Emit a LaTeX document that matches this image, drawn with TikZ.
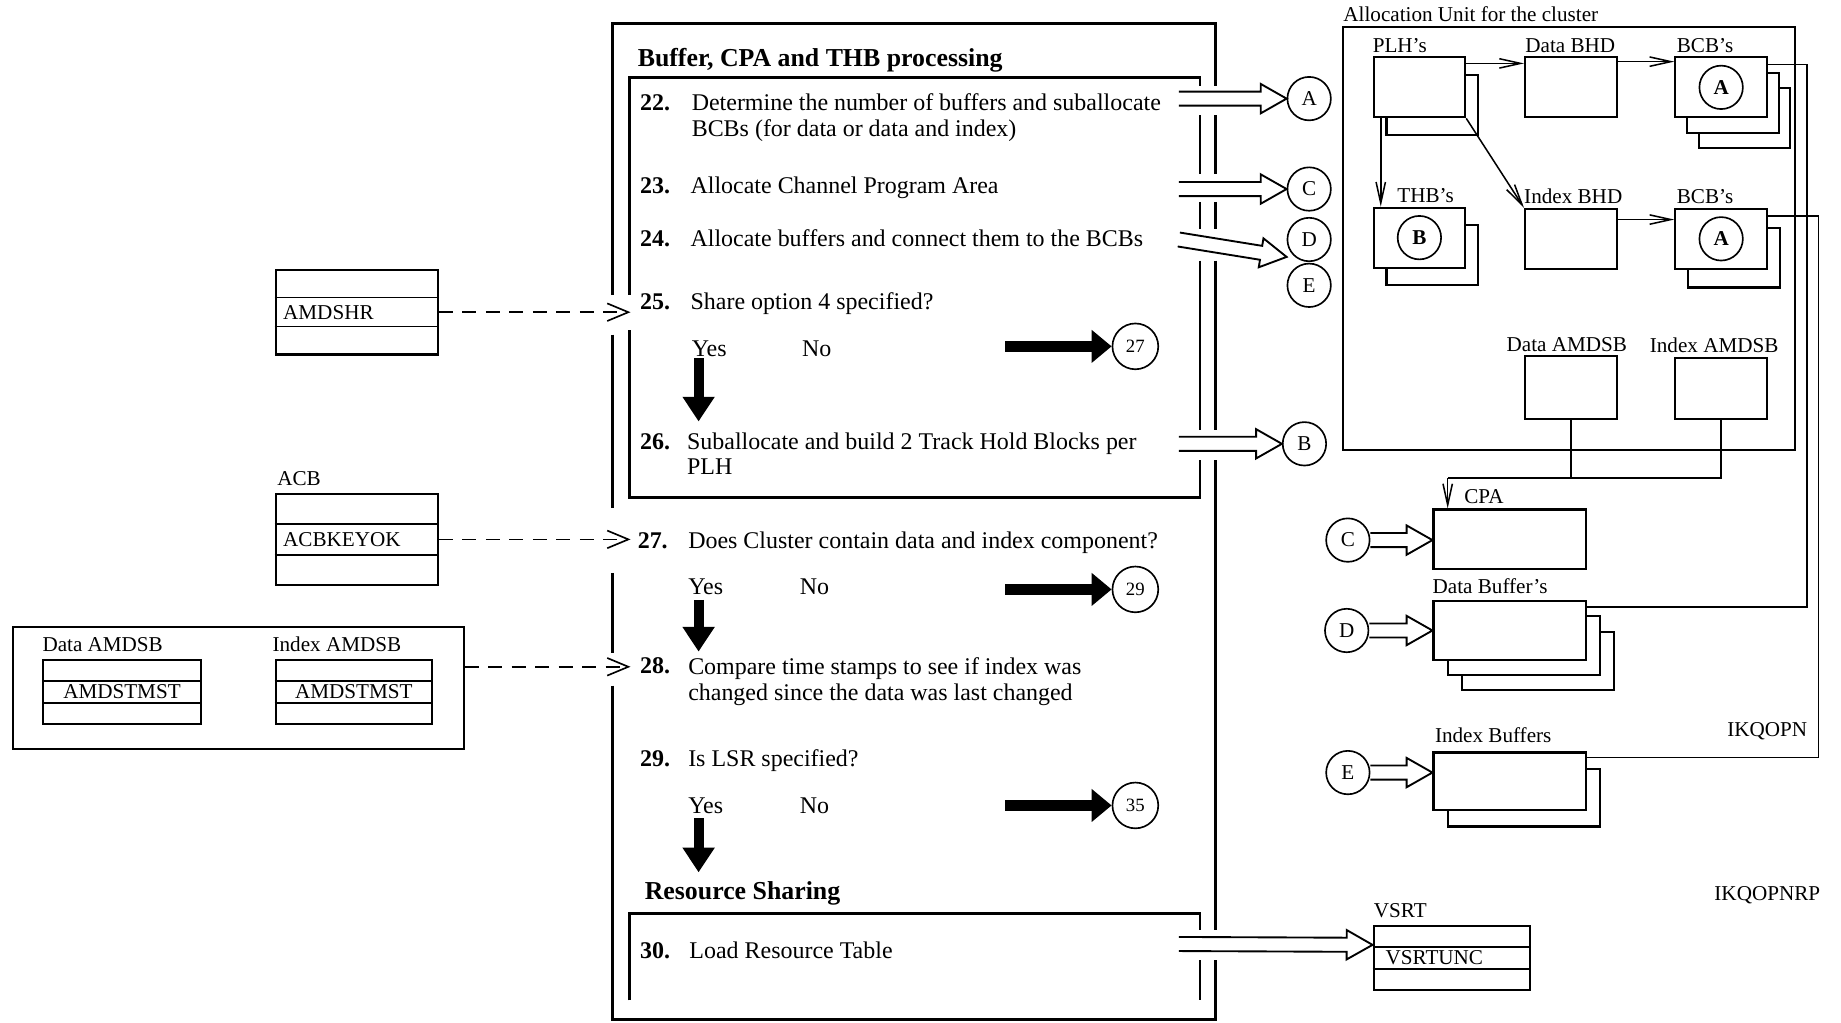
\documentclass[tikz,border=0pt]{standalone}
\usepackage{fontspec}
\setmainfont{Liberation Serif}
\usetikzlibrary{arrows.meta,positioning,calc}

\newcommand\stepfont{\fontsize{20.4}{21.8}\selectfont}
\newcommand\boxfont{\fontsize{18}{20}\selectfont}
\newcommand\headfont{\fontsize{22}{24}\selectfont\bfseries}
\newcommand\numfont{\fontsize{16}{18}\selectfont}

% open double-line arrow from #1 to #2
\newcommand\hollowar[2]{%
  \coordinate (hb) at ($(#2)!22pt!(#1)$);
  \draw[hollowln] ($(#1)!6pt!90:(#2)$) -- ($(hb)!6pt!-90:(#1)$) -- ($(hb)!12.5pt!-90:(#1)$) -- (#2)
    -- ($(hb)!12.5pt!90:(#1)$) -- ($(hb)!6pt!90:(#1)$) -- ($(#1)!6pt!-90:(#2)$);
}
% three-row control block dividers
\newcommand\rowlines[1]{%
  \foreach \f in {0.333,0.667}
    \draw[wire] ($(#1.north west)!\f!(#1.south west)$) -- ($(#1.north east)!\f!(#1.south east)$);
}

\begin{document}
\begin{tikzpicture}[x=1pt,y=-1pt,
  frm/.style={line width=2.4pt},
  wire/.style={line width=1.3pt},
  abox/.style={draw,fill=white,line width=1.8pt,inner sep=0pt,anchor=north west},
  ublk/.style={abox,minimum width=78pt,minimum height=51pt},
  bufblk/.style={abox,minimum width=130pt,minimum height=50pt},
  lbl/.style={font=\boxfont,inner sep=0pt,anchor=base west},
  stxt/.style={font=\stepfont,inner sep=0pt,anchor=base west,align=left},
  snum/.style={stxt,font=\stepfont\bfseries},
  head/.style={font=\headfont,inner sep=0pt,anchor=base west},
  conn/.style={circle,draw,fill=white,line width=1.4pt,minimum size=37pt,inner sep=0pt,font=\boxfont},
  numc/.style={conn,minimum size=39pt,font=\numfont},
  heavy/.style={line width=10pt,-{Triangle[length=17pt,width=27pt]}},
  heavydn/.style={line width=8.5pt,-{Triangle[length=21pt,width=26pt]}},
  dashar/.style={line width=1.4pt,dash pattern=on 12pt off 8pt,-{Straight Barb[length=18pt,width=15pt]}},
  thinar/.style={line width=1.3pt,-{Straight Barb[length=18pt,width=8pt]}},
  hollowln/.style={line width=1.6pt,line join=miter}
]
\fill[white] (0,0) rectangle (1568,871);

% processing frame
\draw[frm] (522,251) -- (522,20) -- (1035,20) -- (1035,73);
\draw[frm] (522,285) -- (522,433);
\draw[frm] (522,488) -- (522,556);
\draw[frm] (522,584) -- (522,868) -- (1035,868) -- (1035,818);
\draw[frm] (1035,98) -- (1035,148) (1035,172) -- (1035,195) (1035,222) -- (1035,366) (1035,392) -- (1035,792);
\draw[frm] (536,251) -- (536,66) -- (1022,66) -- (1022,73);
\draw[frm] (1022,98) -- (1022,148) (1022,172) -- (1022,195) (1022,222) -- (1022,366)
  (1022,392) -- (1022,424) -- (536,424) -- (536,281);
\draw[frm] (536,852) -- (536,778) -- (1022,778) -- (1022,792) (1022,818) -- (1022,852);

% steps
\node[head] (ttl) at (543,57) {Buffer, CPA and THB processing};
\node[snum] (n22) at (545,94.5) {22.};
\node[stxt] (t22) at (589,116) {Determine the number of buffers and suballocate\\BCBs (for data or data and index)};
\node[snum] (n23) at (545,164.5) {23.};
\node[stxt] (t23) at (588,164.5) {Allocate Channel Program Area};
\node[snum] (n24) at (545,210) {24.};
\node[stxt] (t24) at (588,210) {Allocate buffers and connect them to the BCBs};
\node[snum] (n25) at (545,263.5) {25.};
\node[stxt] (t25) at (588,263.5) {Share option 4 specified?};
\node[stxt] (y25) at (589,303.5) {Yes};
\node[stxt] (no25) at (683,303.5) {No};
\node[snum] (n26) at (545,382.5) {26.};
\node[stxt] (t26) at (585,404.5) {Suballocate and build 2 Track Hold Blocks per\\PLH};
\node[snum] (n27) at (543,467.5) {27.};
\node[stxt] (t27) at (586,467.5) {Does Cluster contain data and index component?};
\node[stxt] (y27) at (586,506.5) {Yes};
\node[stxt] (no27) at (681,506.5) {No};
\node[snum] (n28) at (545,573.5) {28.};
\node[stxt] (t28) at (586,596.5) {Compare time stamps to see if index was\\changed since the data was last changed};
\node[snum] (n29) at (545,652.5) {29.};
\node[stxt] (t29) at (586,652.5) {Is LSR specified?};
\node[stxt] (y29) at (586,692.5) {Yes};
\node[stxt] (no29) at (681,692.5) {No};
\node[head] (rs) at (549,766) {Resource Sharing};
\node[snum] (n30) at (545,816.5) {30.};
\node[stxt] (t30) at (587,816.5) {Load Resource Table};

% branch targets
\node[numc] (c27) at (967,295) {27};
\node[numc] (c29) at (967,502) {29};
\node[numc] (c35) at (967,686) {35};
\coordinate (h25) at (856,295);
\coordinate (h27) at (856,502);
\coordinate (h29) at (856,686);
\draw[heavy] (h25) -- (c27);
\draw[heavy] (h27) -- (c29);
\draw[heavy] (h29) -- (c35);
\coordinate (d25a) at (595,305); \coordinate (d25b) at (595,359);
\coordinate (d27a) at (595,511); \coordinate (d27b) at (595,555);
\coordinate (d29a) at (595,697); \coordinate (d29b) at (595,743);
\draw[heavydn] (d25a) -- (d25b);
\draw[heavydn] (d27a) -- (d27b);
\draw[heavydn] (d29a) -- (d29b);

% connectors out of the frame
\node[conn] (a1) at (1115,84) {A};
\node[conn] (c1) at (1115,161) {C};
\node[conn] (d1) at (1115,204) {D};
\node[conn] (e1) at (1115,243) {E};
\node[conn] (b1) at (1111,378) {B};
\coordinate (s22) at (1004,84);
\coordinate (s23) at (1004,161);
\coordinate (s24) at (1004,204);
\coordinate (s26) at (1004,378);
\coordinate (s30) at (1004,804);
\coordinate (de) at ($(d1.west)!0.38!(e1.west)$);
\hollowar{s22}{a1.west}
\hollowar{s23}{c1.west}
\hollowar{s24}{de}
\hollowar{s26}{b1.west}

% input control blocks
\node[abox,minimum width=138pt,minimum height=72pt] (amdshr) at (234,229) {};
\rowlines{amdshr}
\node[lbl,right=7pt of amdshr.west] (amdshrt) {AMDSHR};
\node[abox,minimum width=138pt,minimum height=77pt] (acb) at (234,420) {};
\rowlines{acb}
\node[lbl,right=7pt of acb.west] (acbt) {ACBKEYOK};
\node[lbl,above right=6pt and 2pt of acb.north west] (acbl) {ACB};
\node[abox,minimum width=384pt,minimum height=104pt] (amdsbg) at (10,533) {};
\node[abox,minimum width=134pt,minimum height=55pt] (damdst) at (36,561) {};
\rowlines{damdst}
\node[lbl,anchor=center] (damdstt) at (damdst) {AMDSTMST};
\node[lbl,above right=6pt and 0pt of damdst.north west] (damdstl) {Data AMDSB};
\node[abox,minimum width=133pt,minimum height=55pt] (iamdst) at (234,561) {};
\rowlines{iamdst}
\node[lbl,anchor=center] (iamdstt) at (iamdst) {AMDSTMST};
\node[lbl,above right=6pt and -2pt of iamdst.north west] (iamdstl) {Index AMDSB};
\draw[dashar,shorten >=8pt] (amdshr.east) -- (amdshr.east -| n25.west);
\draw[dashar,shorten >=6pt] (acb.east) -- (acb.east -| n27.west);
\draw[dashar,shorten >=8pt] ([yshift=18pt]amdsbg.east) -- ([yshift=18pt]amdsbg.east -| n28.west);

% allocation unit for the cluster
\node[abox,line width=2pt,minimum width=385pt,minimum height=360pt] (alloc) at (1143,22) {};
\node[lbl,above right=3pt and 1pt of alloc.north west] (allocl) {Allocation Unit for the cluster};
\node[ublk] (plhb) at (1180,63) {};
\node[ublk] (plh) at (1169,48) {};
\node[lbl,above right=3pt and 0pt of plh.north west] (plhl) {PLH’s};
\node[ublk] (dbhd) at (1298,48) {};
\node[lbl,above right=3pt and 1pt of dbhd.north west] (dbhdl) {Data BHD};
\foreach \k in {2,1}
  \node[ublk] (bcb1b\k) at ($(1426,48)+\k*(10,13)$) {};
\node[ublk] (bcb1) at (1426,48) {};
\node[lbl,above right=3pt and 2pt of bcb1.north west] (bcb1l) {BCB’s};
\node[conn,font=\boxfont\bfseries] (a2) at (bcb1) {A};
\node[ublk] (thbb) at (1180,191) {};
\node[ublk] (thb) at (1169,176) {};
\node[lbl,above right=3pt and 21pt of thb.north west] (thbl) {THB’s};
\node[conn,font=\boxfont\bfseries] (b2) at (thb) {B};
\node[ublk] (ibhd) at (1298,177) {};
\node[lbl,above right=3pt and 0pt of ibhd.north west] (ibhdl) {Index BHD};
\node[ublk] (bcb2b) at (1437,193) {};
\node[ublk] (bcb2) at (1426,177) {};
\node[lbl,above right=3pt and 2pt of bcb2.north west] (bcb2l) {BCB’s};
\node[conn,font=\boxfont\bfseries] (a3) at (bcb2) {A};
\node[ublk,minimum height=54pt] (damdsb) at (1298,302) {};
\node[lbl,above right=2pt and -15pt of damdsb.north west] (damdsbl) {Data AMDSB};
\node[ublk,minimum height=52pt] (iamdsb) at (1426,304) {};
\node[lbl,above right=3pt and -21pt of iamdsb.north west] (iamdsbl) {Index AMDSB};
\draw[thinar] ([yshift=-6pt]plh.north east) -- ([yshift=-6pt]dbhd.north west);
\draw[thinar] ([yshift=-4.5pt]dbhd.north east) -- ([yshift=-4.5pt]bcb1.north west);
\draw[thinar] ([xshift=7pt]plh.south west) -- ([xshift=7pt]thb.north west);
\draw[thinar] (plh.south east) -- (ibhd.north west);
\draw[thinar] ([yshift=-10pt]ibhd.north east) -- ([yshift=-10pt]bcb2.north west);

% buffers and CPA
\node[bufblk,minimum height=51pt] (cpa) at (1220,433) {};
\node[lbl,above right=4pt and 27pt of cpa.north west] (cpal) {CPA};
\foreach \k in {2,1}
  \node[bufblk] (dbufb\k) at ($(1220,511)+\k*(12,13)$) {};
\node[bufblk] (dbuf) at (1220,511) {};
\node[lbl,above right=5pt and 0pt of dbuf.north west] (dbufl) {Data Buffer’s};
\node[bufblk,minimum height=49pt] (ibufb) at (1232,654) {};
\node[bufblk,minimum height=49pt] (ibuf) at (1220,640) {};
\node[lbl,above right=7pt and 2pt of ibuf.north west] (ibufl) {Index Buffers};
\coordinate (jn) at (1233,407);
\draw[wire] (damdsb.south) -- (damdsb.south |- jn);
\draw[wire] (iamdsb.south) |- (jn);
\draw[thinar] (jn) -- (jn |- cpa.north);
\draw[wire] ([yshift=-7pt]bcb1.north east) -| ($(alloc.east)+(9,0)$) |- ([yshift=-6pt]dbuf.north east);
\draw[wire] ([yshift=-7pt]bcb2.north east) -| ($(alloc.east)+(19,0)$) |- ([yshift=-5pt]ibuf.north east);
\node[conn] (c2) at (1148,460) {C};
\node[conn] (d2) at (1147,537) {D};
\node[conn] (e2) at (1148,658) {E};
\coordinate (cpain) at (c2.east -| cpa.west);
\coordinate (dbufin) at (d2.east -| dbuf.west);
\coordinate (ibufin) at (e2.east -| ibuf.west);
\hollowar{c2.east}{cpain}
\hollowar{d2.east}{dbufin}
\hollowar{e2.east}{ibufin}
\node[lbl] (mod1) at (1471,627) {IKQOPN};
\node[lbl] (mod2) at (1460,767) {IKQOPNRP};

% resource table
\node[abox,minimum width=133pt,minimum height=54pt] (vsrt) at (1169,788) {};
\rowlines{vsrt}
\node[lbl,right=11pt of vsrt.west] (vsrtt) {VSRTUNC};
\node[lbl,above right=6pt and 1pt of vsrt.north west] (vsrtl) {VSRT};
\coordinate (vsin) at ($(vsrt.north west)!0.3!(vsrt.south west)$);
\hollowar{s30}{vsin}
\end{tikzpicture}
\end{document}
